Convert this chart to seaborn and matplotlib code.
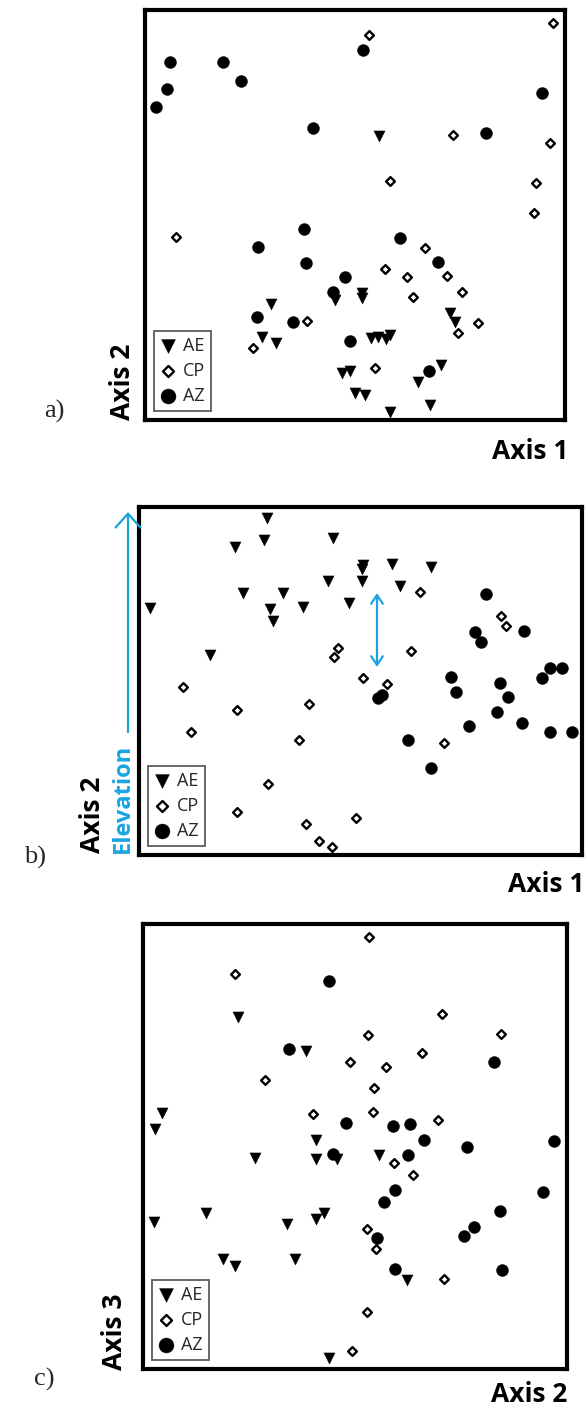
import pandas as pd
import matplotlib.pyplot as plt
import seaborn as sns

sns.set_style("white")
plt.rcParams["font.family"] = ["Open Sans", "DejaVu Sans"]

# =========================
# ORDINATION SCORES (screen units)
# =========================
# panel a : Axis 1 vs Axis 2
a_ae_x = [379, 335, 362, 362, 271, 450, 455, 262, 276, 371, 378, 386, 390,
          342, 350, 355, 365, 441, 418, 430, 390]
a_ae_y = [136, 300, 293, 298, 304, 313, 322, 337, 343, 338, 337, 339, 335,
          373, 371, 393, 395, 365, 382, 405, 412]
a_cp_x = [369, 553, 453, 550, 390, 536, 534, 176, 425, 385, 407, 447, 462,
          413, 478, 458, 307, 253, 375]
a_cp_y = [35, 23, 135, 143, 181, 183, 213, 237, 248, 269, 277, 276, 292,
          297, 323, 333, 321, 348, 368]
a_az_x = [170, 223, 241, 167, 156, 363, 542, 313, 486, 304, 258, 306, 400,
          438, 345, 333, 257, 293, 350, 429]
a_az_y = [62, 62, 81, 89, 107, 50, 93, 128, 133, 229, 247, 263, 238,
          262, 277, 292, 317, 322, 341, 371]

# panel b : Axis 1 vs Axis 2 (elevation)
b_ae_x = [267, 264, 235, 333, 363, 362, 392, 431, 328, 362, 400, 243, 283,
          150, 270, 273, 303, 349, 210]
b_ae_y = [518, 540, 547, 538, 565, 569, 564, 567, 581, 581, 586, 593, 593,
          608, 609, 621, 607, 603, 655]
b_cp_x = [420, 501, 506, 338, 334, 411, 363, 387, 183, 237, 309, 191, 299,
          444, 268, 237, 356, 306, 319, 332]
b_cp_y = [592, 616, 626, 648, 657, 651, 678, 684, 687, 710, 704, 732, 740,
          743, 784, 812, 818, 824, 841, 847]
b_az_x = [486, 475, 481, 524, 451, 550, 562, 542, 500, 456, 382, 378, 508,
          497, 522, 469, 550, 572, 408, 431]
b_az_y = [594, 632, 642, 631, 677, 668, 668, 678, 683, 692, 695, 698, 697,
          712, 723, 726, 732, 732, 740, 768]

# panel c : Axis 2 vs Axis 3
c_ae_x = [238, 306, 162, 155, 316, 255, 316, 337, 379, 154, 206, 287, 316,
          324, 223, 235, 295, 407, 329]
c_ae_y = [1017, 1051, 1113, 1129, 1140, 1158, 1159, 1159, 1155, 1222, 1213,
          1224, 1219, 1213, 1259, 1266, 1259, 1280, 1358]
c_cp_x = [369, 235, 442, 368, 501, 422, 350, 386, 265, 374, 313, 373, 438,
          394, 413, 367, 376, 444, 367, 352]
c_cp_y = [937, 974, 1014, 1035, 1034, 1053, 1062, 1067, 1080, 1088, 1114,
          1112, 1120, 1163, 1175, 1229, 1249, 1279, 1312, 1351]
c_az_x = [329, 289, 494, 346, 393, 410, 424, 467, 554, 333, 408, 395, 384,
          543, 500, 474, 464, 377, 395, 502]
c_az_y = [981, 1049, 1062, 1123, 1126, 1124, 1140, 1147, 1141, 1154, 1155,
          1190, 1202, 1192, 1211, 1227, 1236, 1238, 1269, 1270]

groups = ["AE", "CP", "AZ"]

# =========================
# STYLE
# =========================
W, H = 587, 1410
BLUE = "#19A4E1"

marker_kw = {
    "AE": dict(marker="v", s=64, color="black", edgecolor="black", linewidth=0.3),
    "CP": dict(marker="D", s=20, color="white", edgecolor="black", linewidth=1.7),
    "AZ": dict(marker="o", s=74, color="black", edgecolor="black", linewidth=0.3),
}

panels = [
    dict(name="a", frame=(145, 565, 10, 420),
         data={"AE": (a_ae_x, a_ae_y), "CP": (a_cp_x, a_cp_y), "AZ": (a_az_x, a_az_y)}),
    dict(name="b", frame=(139, 582, 507, 855),
         data={"AE": (b_ae_x, b_ae_y), "CP": (b_cp_x, b_cp_y), "AZ": (b_az_x, b_az_y)}),
    dict(name="c", frame=(143, 567, 924, 1369),
         data={"AE": (c_ae_x, c_ae_y), "CP": (c_cp_x, c_cp_y), "AZ": (c_az_x, c_az_y)}),
]


def fx(px):
    return px / W


def fy(py):
    return 1 - py / H


fig = plt.figure(figsize=(W / 100, H / 100), dpi=100)

axes = {}
for p in panels:
    l, r, t, b = p["frame"]
    ax = fig.add_axes([l / W, 1 - b / H, (r - l) / W, (b - t) / H])
    for g in groups:
        xs, ys = p["data"][g]
        df = pd.DataFrame({"x": xs, "y": ys})
        sns.scatterplot(data=df, x="x", y="y", ax=ax, label=g, zorder=3,
                        **marker_kw[g])
    ax.set_xlim(l, r)
    ax.set_ylim(b, t)
    ax.set_xticks([])
    ax.set_yticks([])
    ax.set_xlabel("")
    ax.set_ylabel("")
    for s in ax.spines.values():
        s.set_linewidth(3)
        s.set_color("black")
    leg = ax.legend(loc="lower left", frameon=True, fancybox=False,
                    fontsize=13, markerscale=1.25, handlelength=0.85,
                    handletextpad=0.4, labelspacing=0.38, borderpad=0.35,
                    borderaxespad=0.5)
    leg.get_frame().set_edgecolor("#333333")
    leg.get_frame().set_linewidth(1.3)
    axes[p["name"]] = ax

# =========================
# LABELS
# =========================
bold = dict(fontsize=19, fontweight="bold", color="black")
fig.text(fx(123), fy(420), "Axis 2", rotation=90, ha="center", va="bottom", **bold)
fig.text(fx(568), fy(451), "Axis 1", ha="right", va="center", **bold)
fig.text(fx(92), fy(853), "Axis 2", rotation=90, ha="center", va="bottom", **bold)
fig.text(fx(123), fy(853), "Elevation", rotation=90, ha="center", va="bottom",
         fontsize=17, fontweight="bold", color=BLUE)
fig.text(fx(584), fy(885), "Axis 1", ha="right", va="center", **bold)
fig.text(fx(114), fy(1370), "Axis 3", rotation=90, ha="center", va="bottom", **bold)
fig.text(fx(567), fy(1395), "Axis 2", ha="right", va="center", **bold)

serif = dict(fontsize=19, family=["Liberation Serif", "DejaVu Serif"])
fig.text(fx(54), fy(411), "a)", ha="center", va="center", **serif)
fig.text(fx(35), fy(857), "b)", ha="center", va="center", **serif)
fig.text(fx(44), fy(1379), "c)", ha="center", va="center", **serif)

# elevation arrows in panel b
ax_b = axes["b"]
ax_b.annotate("", xy=(128, H - 512), xytext=(128, H - 732),
              xycoords="figure pixels", textcoords="figure pixels",
              arrowprops=dict(arrowstyle="->,head_width=0.45,head_length=0.5",
                              color=BLUE, lw=1.6, mutation_scale=20,
                              shrinkA=0, shrinkB=0))
ax_b.annotate("", xy=(377, 593), xytext=(377, 667),
              arrowprops=dict(arrowstyle="<->,head_width=0.3,head_length=0.45",
                              color=BLUE, lw=1.6, mutation_scale=14,
                              shrinkA=0, shrinkB=0))

fig.savefig("out.png", dpi=100)
plt.close(fig)
